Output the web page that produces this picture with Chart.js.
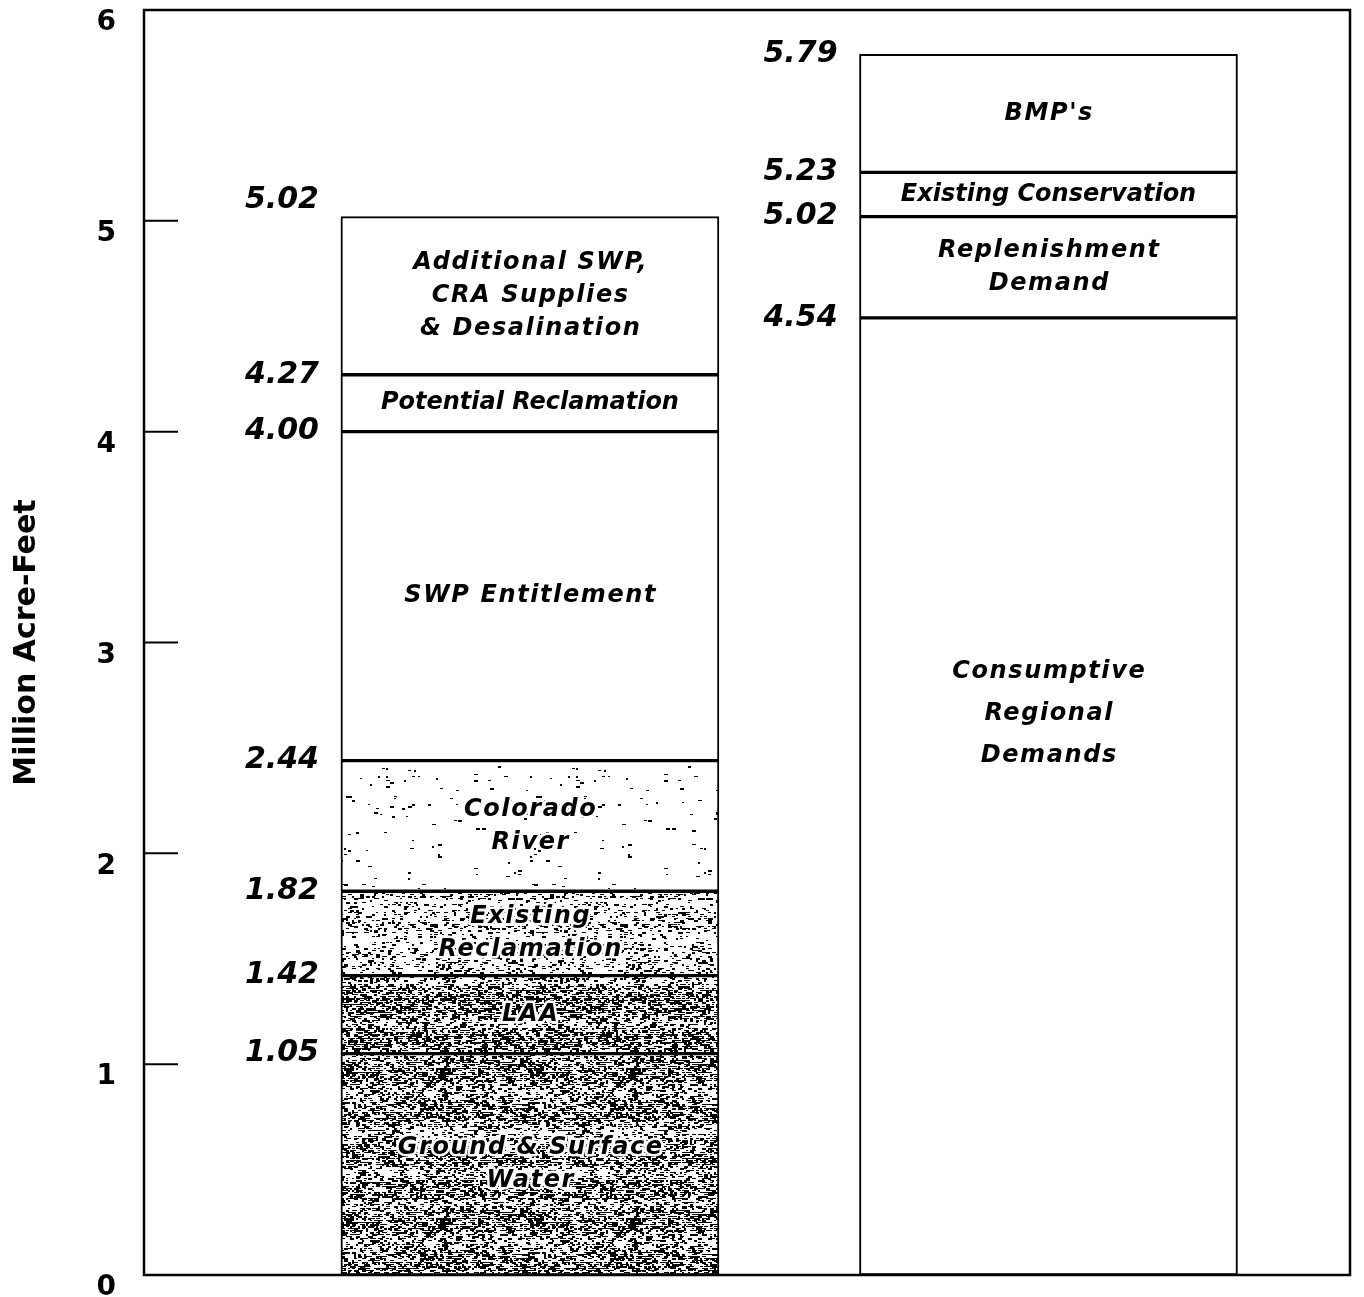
<!DOCTYPE html>
<html>
<head>
<meta charset="utf-8">
<script src="https://cdn.jsdelivr.net/npm/chart.js@4.4.0/dist/chart.umd.min.js"></script>
<style>
  body { margin: 0; background: #fff; }
  #wrap { width: 1364px; height: 1297px; }
</style>
</head>
<body>
<div id="wrap"><canvas id="aguaChart"></canvas></div>
<script>
// where the two columns sit on the (hidden) x axis
const barPos = [1.6, 3.75];

// supply column: cumulative tops, bottom to top
const supplyTops = [1.05, 1.42, 1.82, 2.44, 4.00, 4.27, 5.02];
const supplyNames = [
  ['Ground & Surface', 'Water'],
  ['LAA'],
  ['Existing', 'Reclamation'],
  ['Colorado', 'River'],
  ['SWP Entitlement'],
  ['Potential Reclamation'],
  ['Additional SWP,', 'CRA Supplies', '& Desalination']
];

// demand column
const demandTops = [4.54, 5.02, 5.23, 5.79];
const demandNames = [
  ['Consumptive', 'Regional', 'Demands'],
  ['Replenishment', 'Demand'],
  ['Existing Conservation'],
  ["BMP's"]
];

const yTicks = [0, 1, 2, 3, 4, 5, 6];

const FONT = '"DejaVu Sans", sans-serif';

function segments(x, tops) {
  return tops.map((top, i) => ({ x: x, y: [i === 0 ? 0 : tops[i - 1], top] }));
}

// stippled print texture for the lower supply blocks
function speckle(density, seed) {
  const c = document.createElement('canvas');
  c.width = 190; c.height = 150;
  const g = c.getContext('2d');
  g.fillStyle = '#fff';
  g.fillRect(0, 0, c.width, c.height);
  g.fillStyle = '#000';
  let s = seed >>> 0;
  const rnd = () => {
    s = (s + 0x6D2B79F5) >>> 0;
    let t = s;
    t = Math.imul(t ^ (t >>> 15), t | 1);
    t ^= t + Math.imul(t ^ (t >>> 7), t | 61);
    return ((t ^ (t >>> 14)) >>> 0) / 4294967296;
  };
  for (let y = 0; y < c.height; y += 2) {
    const band = 0.6 + 0.8 * Math.abs(Math.sin(y / 13));
    for (let x = 0; x < c.width; x += 2) {
      if (rnd() < density * band) g.fillRect(x, y, 2 + Math.floor(rnd() * 3), 1 + Math.floor(rnd() * 2));
    }
  }
  return g.createPattern(c, 'repeat');
}

const supplyFills = [
  speckle(0.4, 11),
  speckle(0.42, 23),
  speckle(0.16, 37),
  speckle(0.015, 41),
  '#fff', '#fff', '#fff'
];

// small hand nudges for a couple of labels (px)
const nameShift = { 'Demand-0': -83 };
const valueShift = { 'Supply-6': -16 };
// the long one-liners are set tight, the rest a bit spaced out
const tightNames = ['Supply-5', 'Demand-2'];

const framePlugin = {
  id: 'frame',
  afterDatasetsDraw(chart) {
    const { ctx, chartArea: a } = chart;
    const y = chart.scales.y;
    ctx.save();
    ctx.strokeStyle = '#000';
    ctx.lineWidth = 2.5;
    ctx.strokeRect(a.left, a.top, a.right - a.left, a.bottom - a.top);
    ctx.lineWidth = 2;
    yTicks.forEach(v => {
      const py = y.getPixelForValue(v);
      ctx.beginPath();
      ctx.moveTo(a.left, py);
      ctx.lineTo(a.left + 34, py);
      ctx.stroke();
    });
    ctx.restore();
  }
};

const labelPlugin = {
  id: 'segLabels',
  afterDatasetsDraw(chart) {
    const ctx = chart.ctx;
    ctx.save();
    chart.data.datasets.forEach((ds, di) => {
      const meta = chart.getDatasetMeta(di);
      meta.data.forEach((bar, i) => {
        const key = ds.label + '-' + i;
        // block name, centred in the block
        const lines = ds.names[i];
        const lh = key === 'Demand-0' ? 42 : 33;
        const cy = (bar.y + bar.base) / 2 + (nameShift[key] || 0);
        const sp = tightNames.includes(key) ? 0 : 1.6;
        ctx.font = 'italic bold 24px ' + FONT;
        ctx.letterSpacing = sp + 'px';
        ctx.textAlign = 'center';
        ctx.textBaseline = 'middle';
        ctx.lineJoin = 'round';
        lines.forEach((t, k) => {
          const ty = cy + (k - (lines.length - 1) / 2) * lh;
          const tx = bar.x + sp / 2;
          ctx.strokeStyle = '#fff';
          ctx.lineWidth = 5;
          ctx.strokeText(t, tx, ty);
          ctx.fillStyle = '#000';
          ctx.fillText(t, tx, ty);
        });
        ctx.letterSpacing = '0px';
        // cumulative value at the top edge
        ctx.font = 'italic bold 30px ' + FONT;
        ctx.textAlign = 'right';
        ctx.fillStyle = '#000';
        ctx.fillText(ds.tops[i].toFixed(2), bar.x - bar.width / 2 - 22, bar.y + (valueShift[key] || 0));
      });
    });
    ctx.restore();
  }
};

new Chart('aguaChart', {
  type: 'bar',
  data: {
    datasets: [
      { label: 'Supply', data: segments(barPos[0], supplyTops), tops: supplyTops, names: supplyNames, backgroundColor: supplyFills },
      { label: 'Demand', data: segments(barPos[1], demandTops), tops: demandTops, names: demandNames, backgroundColor: '#fff' }
    ]
  },
  options: {
    responsive: true,
    maintainAspectRatio: false,
    animation: false,
    layout: { padding: { top: 10, right: 14, bottom: 22, left: 0 } },
    datasets: {
      bar: { grouped: false, barThickness: 378, borderColor: '#000', borderWidth: 2, borderSkipped: false }
    },
    plugins: {
      legend: { display: false },
      tooltip: { enabled: false }
    },
    scales: {
      x: { type: 'linear', min: 0, max: 5, offset: false, display: false },
      y: {
        min: 0,
        max: 6,
        afterFit: s => { s.width = 144; },
        grid: { display: false, drawTicks: true, tickLength: 28 },
        border: { display: false },
        ticks: {
          stepSize: 1,
          padding: 0,
          labelOffset: 13,
          color: '#000',
          font: { family: FONT, size: 28, weight: 'bold', lineHeight: 0.7 }
        },
        title: {
          display: true,
          text: 'Million Acre-Feet',
          color: '#000',
          padding: { top: 9, bottom: 0 },
          font: { family: FONT, size: 30, weight: 'bold' }
        }
      }
    }
  },
  plugins: [framePlugin, labelPlugin]
});
</script>
</body>
</html>
